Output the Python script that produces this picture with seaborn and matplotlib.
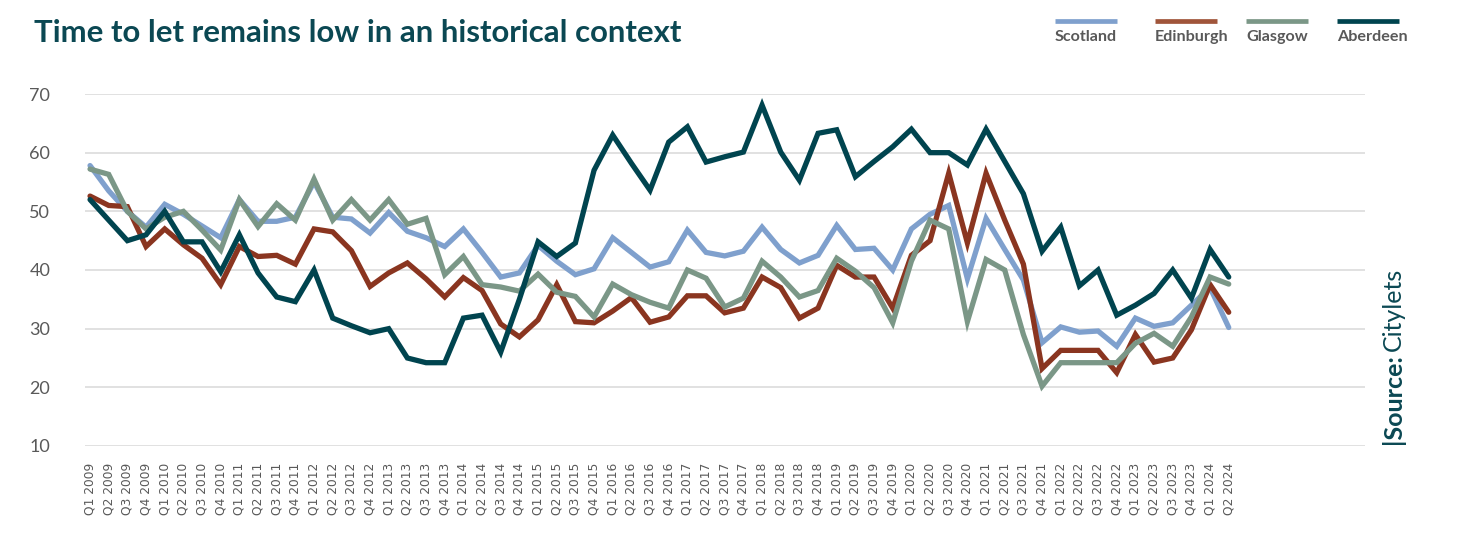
import matplotlib
matplotlib.use("Agg")
import matplotlib.pyplot as plt
import pandas as pd
import seaborn as sns
from matplotlib.lines import Line2D

# quarterly time to let (days), Q1 2009 .. Q2 2024
quarters = [f"Q{q} {y}" for y in range(2009, 2025) for q in range(1, 5)][:62]

scotland = [57.8, 53.5, 50.0, 47.3, 51.2, 49.5, 47.5, 45.5, 52.0, 48.3,
            48.3, 49.0, 55.0, 49.0, 48.7, 46.3, 49.8, 46.6, 45.5, 44.0,
            47.0, 43.0, 38.8, 39.5, 44.2, 41.5, 39.2, 40.2, 45.5, 43.0,
            40.5, 41.4, 46.8, 43.0, 42.4, 43.2, 47.3, 43.5, 41.2, 42.5,
            47.6, 43.5, 43.7, 40.0, 47.0, 49.5, 51.0, 38.5, 48.8, 43.5,
            38.3, 27.6, 30.3, 29.4, 29.6, 27.0, 31.8, 30.4, 31.0, 34.0,
            37.0, 30.2]
edinburgh = [52.6, 51.0, 50.8, 44.0, 47.0, 44.3, 42.0, 37.5, 44.0, 42.3,
             42.5, 41.0, 47.0, 46.5, 43.3, 37.2, 39.5, 41.2, 38.5, 35.4,
             38.7, 36.5, 30.8, 28.6, 31.5, 37.5, 31.2, 31.0, 33.0, 35.3,
             31.1, 32.0, 35.6, 35.6, 32.7, 33.5, 38.8, 37.0, 31.8, 33.5,
             40.8, 38.8, 38.8, 33.5, 42.5, 45.0, 56.5, 44.6, 56.5, 48.5,
             41.0, 23.2, 26.3, 26.3, 26.3, 22.5, 29.0, 24.3, 25.0, 29.8,
             37.5, 32.8]
glasgow = [57.2, 56.3, 50.0, 47.0, 49.0, 50.0, 46.8, 43.4, 52.0, 47.4,
           51.3, 48.5, 55.5, 48.5, 52.0, 48.5, 52.0, 47.8, 48.8, 39.2,
           42.3, 37.5, 37.1, 36.4, 39.3, 36.2, 35.5, 32.0, 37.6, 35.8,
           34.5, 33.5, 40.0, 38.6, 33.7, 35.2, 41.5, 38.8, 35.4, 36.5,
           42.0, 39.8, 37.0, 31.0, 41.5, 48.5, 47.0, 31.2, 41.8, 40.0,
           29.0, 20.2, 24.2, 24.2, 24.2, 24.2, 27.5, 29.2, 27.0, 32.0,
           38.8, 37.6]
aberdeen = [52.0, 48.5, 45.0, 46.0, 50.0, 44.8, 44.8, 39.7, 46.0, 39.5,
            35.4, 34.6, 40.0, 31.8, 30.5, 29.3, 30.0, 25.0, 24.2, 24.2,
            31.8, 32.3, 26.0, 35.0, 44.8, 42.3, 44.6, 57.0, 63.0, 58.2,
            53.6, 61.8, 64.4, 58.4, 59.3, 60.1, 68.1, 60.1, 55.3, 63.3,
            63.9, 55.9, 58.5, 61.0, 64.0, 60.0, 60.0, 57.9, 64.0, 58.5,
            53.0, 43.2, 47.3, 37.3, 40.0, 32.3, 34.0, 36.0, 40.0, 35.2,
            43.5, 38.8]

series = {"Scotland": scotland, "Edinburgh": edinburgh,
          "Glasgow": glasgow, "Aberdeen": aberdeen}
colors = {"Scotland": "#7fa0cd", "Edinburgh": "#8a3520",
          "Glasgow": "#7b9787", "Aberdeen": "#00444f"}
legend_colors = {"Scotland": "#7fa0cd", "Edinburgh": "#a0553a",
                 "Glasgow": "#7b9787", "Aberdeen": "#00444f"}

frames = []
for name, vals in series.items():
    frames.append(pd.DataFrame({"idx": range(len(quarters)), "value": vals, "region": name}))
df = pd.concat(frames, ignore_index=True)

sns.set_theme(style="white")
plt.rcParams["font.family"] = ["Lato", "DejaVu Sans"]

W, H = 1464, 536
fig = plt.figure(figsize=(W / 100, H / 100), dpi=100)
ax = fig.add_axes([85 / W, 1 - 446 / H, (1365 - 85) / W, (446 - 94) / H])

sns.lineplot(data=df, x="idx", y="value", hue="region", palette=colors,
             linewidth=3.8, legend=False, ax=ax, sort=False)
for line in ax.lines:
    line.set_solid_joinstyle("miter")
    line.set_clip_on(False)

ax.set_xlim(-0.27, 68.3)
ax.set_ylim(10, 70)
ax.set_yticks(range(10, 71, 10))
ax.set_xticks(range(len(quarters)))
ax.set_xticklabels(quarters, rotation=90, fontsize=8.8, color="#595959",
                   family="DejaVu Sans")
ax.tick_params(axis="x", length=0, pad=12)
ax.tick_params(axis="y", length=0, pad=25, labelsize=13, labelcolor="#595959")
ax.grid(axis="y", color="#d9d9d9", linewidth=1.1)
ax.set_axisbelow(True)
for s in ax.spines.values():
    s.set_visible(False)
ax.set_xlabel("")
ax.set_ylabel("")


def px(x, y):
    return x / W, 1 - y / H


teal = "#0b4853"
fig.text(*px(34, 33), "Time to let remains low in an historical context",
         fontsize=22.4, fontweight="bold", color=teal, va="center", ha="left")

legend_pos = {"Scotland": 1055, "Edinburgh": 1155, "Glasgow": 1246, "Aberdeen": 1337}
for name, x0 in legend_pos.items():
    x1 = x0 + 62
    fig.add_artist(Line2D([x0 / W, x1 / W], [1 - 21 / H, 1 - 21 / H],
                          color=legend_colors[name], linewidth=3.4,
                          solid_capstyle="butt"))
    fig.text(*px(x0, 37), name, fontsize=11.6, fontweight="bold",
             color="#595959", va="center", ha="left")

src1 = fig.text(*px(1393, 444), "|Source:", rotation=90, fontsize=18,
                fontweight="bold", color=teal, ha="center", va="bottom")
fig.canvas.draw()
bb = src1.get_window_extent()
fig.text(1393 / W, (bb.y1 + 3) / H, "Citylets", rotation=90, fontsize=18,
         fontweight="normal", color=teal, ha="center", va="bottom")

fig.savefig("out.png", dpi=100)
